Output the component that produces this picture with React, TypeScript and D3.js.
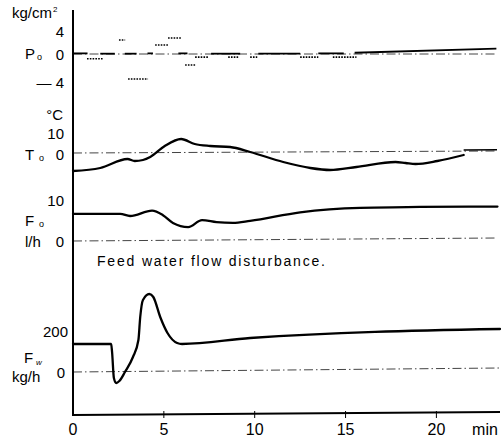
import React from "react";
import * as d3 from "d3";

const W = 503;
const H = 439;

// time axis (min)
const xTicks = [0, 5, 10, 15, 20];

// P0 (kg/cm2): dotted deviation segments
const pSegStart = [0.77, 2.53, 3.03, 4.52, 5.23, 6.17, 6.72, 8.54, 9.75, 12.5, 14.3];
const pSegEnd = [1.65, 2.87, 4.13, 5.23, 6.0, 6.78, 7.44, 9.09, 10.14, 13.5, 15.6];
const pSegValue = [-0.75, 2.25, -4.0, 1.45, 2.55, -1.75, -0.5, -0.5, -0.5, -0.5, -0.5];
// P0 solid pieces near zero
const pMainStart = [0, 1.5, 2.85, 4.1, 5.8, 7.6, 10.2, 13.5, 15.5];
const pMainEnd = [0.8, 2.3, 3.5, 4.4, 6.3, 9.2, 12.5, 14.9, 23.3];
const pMainV0 = [0.1, 0.05, 0.05, 0.1, 0.1, 0.05, 0.05, 0.1, 0.2];
const pMainV1 = [0.1, 0.05, 0.05, 0.1, 0.1, 0.05, 0.05, 0.1, 0.85];
const pTicks = [4, 0, -4];

// T0 (°C)
const tTime = [0, 1.5, 3.0, 3.4, 3.85, 4.25, 5.05, 5.95, 6.7, 7.55, 8.65, 9.75, 11.57, 13.06, 14.15, 15.6, 17.75, 18.3, 18.85, 20.05, 21.5];
const tValue = [-9, -7.5, -3, -4, -3.5, -2, 3.5, 7, 4.5, 3.5, 3, 0.5, -4.5, -7.5, -8.5, -7, -4.5, -5, -5.5, -4, -1];
const tTicks = [10, 0];

// F0 (l/h)
const f0Time = [0, 2.6, 3.14, 4.35, 4.95, 5.5, 6.34, 7.1, 7.9, 8.8, 9.75, 12.5, 15.8, 19.1, 23.36];
const f0Value = [6.6, 6.6, 6.1, 7.4, 6.3, 4.4, 3.4, 5.1, 4.6, 4.4, 4.9, 7.0, 8.1, 8.3, 8.4];
const f0Ticks = [10, 0];

// Fw (kg/h)
const fwTime = [0, 2.1, 2.15, 2.25, 2.38, 2.55, 2.86, 3.3, 3.6, 3.7, 3.85, 4.2, 4.42, 4.8, 5.2, 5.73, 6.0, 9.75, 23.5];
const fwValue = [140, 140, 100, -30, -55, -45, 0, 75, 160, 275, 360, 390, 375, 275, 195, 145, 140, 170, 215];
const fwTicks = [200, 0];

const FONT = "'Liberation Sans', Arial, Helvetica, sans-serif";

export default function App() {
  const x = d3.scaleLinear().domain([0, 23.5]).range([73, 500]);
  const yP = d3.scaleLinear().domain([-4, 4]).range([79, 29]);
  const yT = d3.scaleLinear().domain([-10, 10]).range([173, 133]);
  const yF0 = d3.scaleLinear().domain([0, 10]).range([241, 200]);
  const yFw = d3.scaleLinear().domain([0, 200]).range([372, 332]);

  const curve = d3.curveMonotoneX;
  const tLine = d3.line<number>().x((_, i) => x(tTime[i])).y((d) => yT(d)).curve(curve);
  const f0Line = d3.line<number>().x((_, i) => x(f0Time[i])).y((d) => yF0(d)).curve(curve);
  const fwLine = d3.line<number>().x((_, i) => x(fwTime[i])).y((d) => yFw(d)).curve(curve);

  const axisY0 = 10;
  const axisY1 = 415;
  const x0 = x(0);
  const xEnd = x(23.5);

  const zeroStyle = { stroke: "#444", strokeWidth: 1, strokeDasharray: "9,3,1.5,3", fill: "none" };
  const curveStyle = { stroke: "#000", strokeWidth: 2.3, fill: "none", strokeLinejoin: "round" as const, strokeLinecap: "round" as const };
  const labelX = 64;

  return (
    <svg width={W} height={H} style={{ position: "absolute", left: 0, top: 0, background: "#fff" }} fontFamily={FONT}>
      <rect width={W} height={H} fill="#fff" />

      {/* zero reference lines */}
      <line x1={x0} x2={xEnd - 3} y1={yP(0)} y2={yP(0)} {...zeroStyle} />
      <line x1={x0} x2={xEnd - 3} y1={yT(0)} y2={yT(0) - 2} {...zeroStyle} />
      <line x1={x0} x2={xEnd - 3} y1={yF0(0)} y2={yF0(0) - 3} {...zeroStyle} />
      <line x1={x0} x2={xEnd} y1={yFw(0)} y2={yFw(0) - 4} {...zeroStyle} />

      {/* P0 solid pieces */}
      {pMainStart.map((s, i) => (
        <line key={"pm" + i} x1={x(s)} x2={x(pMainEnd[i])} y1={yP(pMainV0[i])} y2={yP(pMainV1[i])} stroke="#000" strokeWidth={1.8} />
      ))}
      {/* P0 dotted segments */}
      {pSegStart.map((s, i) => (
        <line key={"ps" + i} x1={x(s)} x2={x(pSegEnd[i])} y1={yP(pSegValue[i])} y2={yP(pSegValue[i])} stroke="#000" strokeWidth={1.6} strokeDasharray="1.6,1.2" />
      ))}

      {/* curves */}
      <path d={tLine(tValue) || ""} {...curveStyle} />
      <line x1={x(21.5)} x2={xEnd - 3} y1={yT(1.5)} y2={yT(1.6)} stroke="#000" strokeWidth={1.4} />
      <path d={f0Line(f0Value) || ""} {...curveStyle} />
      <path d={fwLine(fwValue) || ""} {...curveStyle} />

      {/* axes */}
      <line x1={x0} x2={x0} y1={axisY0} y2={axisY1 + 1} stroke="#000" strokeWidth={2} />
      <line x1={x0} x2={xEnd} y1={axisY1} y2={axisY1 - 3} stroke="#000" strokeWidth={1.8} />
      {xTicks.map((t) => (
        <g key={"xt" + t}>
          {t > 0 && <line x1={x(t)} x2={x(t)} y1={axisY1 - 4} y2={axisY1 + 3} stroke="#000" strokeWidth={1} />}
          <text x={x(t)} y={429} fontSize={16} textAnchor="middle" dominantBaseline="central">{t}</text>
        </g>
      ))}
      <text x={485} y={429} fontSize={16} textAnchor="middle" dominantBaseline="central">min</text>

      {/* P0 labels */}
      <text x={12} y={18} fontSize={15}>kg/cm</text>
      <text x={53} y={12} fontSize={8}>2</text>
      {pTicks.map((v) => (
        <text key={"pt" + v} x={labelX} y={yP(v) + (v < 0 ? 3 : v > 0 ? 2 : 0)} fontSize={15} textAnchor="end" dominantBaseline="central">
          {v < 0 ? "\u2014 " + Math.abs(v) : v}
        </text>
      ))}
      <text x={25} y={53} fontSize={15} dominantBaseline="central">P</text>
      <text x={37} y={57} fontSize={9} dominantBaseline="central">o</text>

      {/* T0 labels */}
      <text x={63} y={114} fontSize={15} textAnchor="end" dominantBaseline="central">°C</text>
      {tTicks.map((v) => (
        <text key={"tt" + v} x={labelX} y={yT(v) + (v === 0 ? 1 : 0)} fontSize={15} textAnchor="end" dominantBaseline="central">{v}</text>
      ))}
      <text x={25} y={154} fontSize={15} dominantBaseline="central">T</text>
      <text x={39} y={158} fontSize={9} dominantBaseline="central">o</text>

      {/* F0 labels */}
      {f0Ticks.map((v) => (
        <text key={"ft" + v} x={labelX} y={yF0(v)} fontSize={15} textAnchor="end" dominantBaseline="central">{v}</text>
      ))}
      <text x={25} y={220} fontSize={15} dominantBaseline="central">F</text>
      <text x={39} y={224} fontSize={9} dominantBaseline="central">o</text>
      <text x={25} y={241} fontSize={15} dominantBaseline="central">l/h</text>

      {/* Fw labels */}
      {fwTicks.map((v) => (
        <text key={"fwt" + v} x={v === 0 ? labelX + 1 : 68} y={yFw(v) - (v === 0 ? 0 : 1)} fontSize={15} textAnchor="end" dominantBaseline="central">{v}</text>
      ))}
      <text x={24} y={357} fontSize={15} dominantBaseline="central">F</text>
      <text x={36} y={362} fontSize={8} fontStyle="italic" dominantBaseline="central">w</text>
      <text x={12} y={376} fontSize={15} dominantBaseline="central">kg/h</text>

      {/* annotation */}
      <text x={97} y={261} fontSize={14} dominantBaseline="central" textLength={228} lengthAdjust="spacing">
        Feed water flow disturbance.
      </text>
    </svg>
  );
}
